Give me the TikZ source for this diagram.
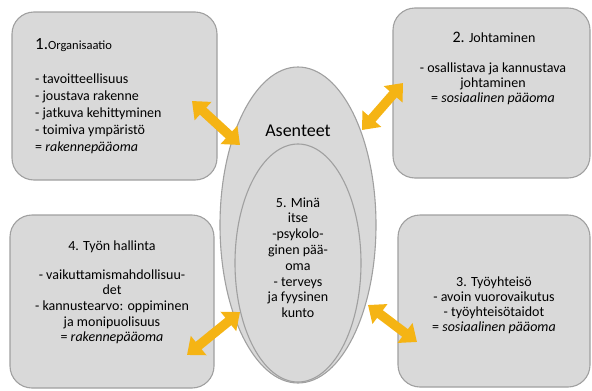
\documentclass[tikz,border=0pt]{standalone}
\usepackage{fontspec}
\setmainfont{Carlito}
\usetikzlibrary{arrows.meta,shapes.geometric}
\definecolor{boxfill}{RGB}{217,217,217}
\definecolor{boxline}{RGB}{160,160,160}
\definecolor{arrowc}{RGB}{245,180,20}
\tikzset{
  panel/.style={draw=boxline, fill=boxfill, line width=1.1pt, rounded corners=22pt},
  oval/.style={ellipse, draw=boxline, fill=boxfill, line width=1.1pt, inner sep=0pt},
  body/.style={font=\fontsize{14}{15}\selectfont, inner sep=0pt},
  dblarrow/.style={line width=9.5pt, draw=arrowc,
    {Triangle[width=24pt,length=15pt]}-{Triangle[width=24pt,length=15pt]}},
}
\begin{document}
\begin{tikzpicture}[x=1pt,y=-1pt]
\useasboundingbox (0,0) rectangle (592,391);
% panels
\draw[panel] (12,12) rectangle (217,180);
\draw[panel] (393,8) rectangle (590,178);
\draw[panel] (10,215) rectangle (214,388);
\draw[panel] (398,215) rectangle (590,387);
% ellipses
\node[oval, minimum width=156pt, minimum height=316pt] (outer) at (298,225) {};
\node[oval, minimum width=126pt, minimum height=238pt] (inner) at (298,263) {};
% box 1 text
\node[inner sep=0pt, anchor=base west, font=\fontsize{12.5}{13}\selectfont] (t1) at (35,49) {{\fontsize{17}{17}\selectfont 1.}Organisaatio};
\foreach \t [count=\i] in {- tavoitteellisuus, - joustava rakenne, - jatkuva kehittyminen, - toimiva ympäristö, = \textit{rakennepääoma}}
  \node[body, anchor=base west] (t1l\i) at (35,83+17*\i-17) {\t};
% box 2 text
\node[body, anchor=base] (t2) at (494,42) {{\fontsize{16}{16}\selectfont 2.} Johtaminen};
\foreach \t [count=\i] in {- osallistava ja kannustava, johtaminen, = \textit{sosiaalinen pääoma}}
  \node[body, anchor=base] (t2l\i) at (493,72+15*\i-15) {\t};
% box 3 text
\foreach \t [count=\i] in {3. Työyhteisö, - avoin vuorovaikutus, - työyhteisötaidot, = \textit{sosiaalinen pääoma}}
  \node[body, anchor=base] (t3l\i) at (494,286+15*\i-15) {\t};
% box 4 text
\node[body, anchor=base] (t4) at (112,250) {4. Työn hallinta};
\foreach \t [count=\i] in {- vaikuttamismahdollisuu-, det, - kannustearvo: oppiminen, ja monipuolisuus, = \textit{rakennepääoma}}
  \node[body, anchor=base] (t4l\i) at (112,279+15.7*\i-15.7) {\t};
% ellipse text
\node[inner sep=0pt, anchor=base, font=\fontsize{18}{18}\selectfont] (as) at (298,136) {Asenteet};
\foreach \t [count=\i] in {5. Minä, itse, -psykolo-, ginen pää-, oma, - terveys, ja fyysinen, kunto}
  \node[body, anchor=base] (t5l\i) at (298,207+15.8*\i-15.8) {\t};
% arrows
\coordinate (a1a) at (192,101);
\coordinate (a1b) at (240,145);
\coordinate (a2a) at (362,130);
\coordinate (a2b) at (403,83);
\coordinate (a3a) at (187,355);
\coordinate (a3b) at (240,312);
\coordinate (a4a) at (368,305);
\coordinate (a4b) at (417,342);
\draw[dblarrow] (a1a) -- (a1b);
\draw[dblarrow] (a2a) -- (a2b);
\draw[dblarrow] (a3a) -- (a3b);
\draw[dblarrow] (a4a) -- (a4b);
\end{tikzpicture}
\end{document}
